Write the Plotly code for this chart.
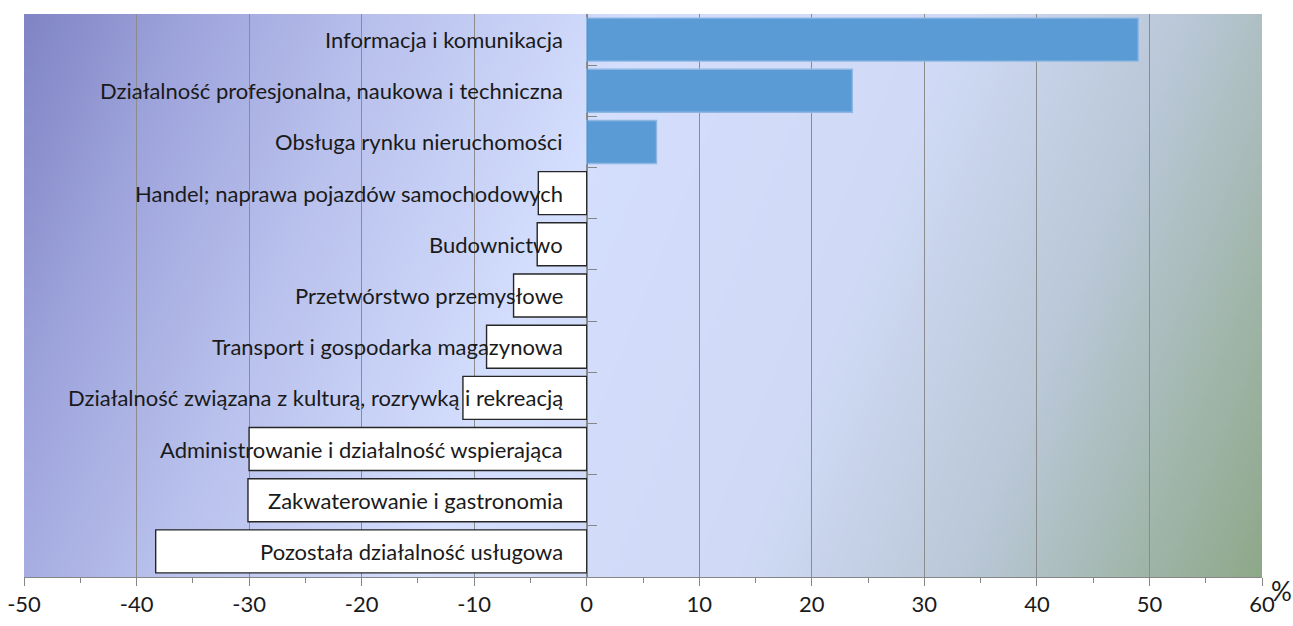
import base64, struct, zlib
import plotly.graph_objects as go

categories = [
    "Informacja i komunikacja",
    "Działalność profesjonalna, naukowa i techniczna",
    "Obsługa rynku nieruchomości",
    "Handel; naprawa pojazdów samochodowych",
    "Budownictwo",
    "Przetwórstwo przemysłowe",
    "Transport i gospodarka magazynowa",
    "Działalność związana z kulturą, rozrywką i rekreacją",
    "Administrowanie i działalność wspierająca",
    "Zakwaterowanie i gastronomia",
    "Pozostała działalność usługowa",
]
values = [49.0, 23.6, 6.2, -4.3, -4.4, -6.5, -8.9, -11.0, -30.0, -30.1, -38.3]
x_tick_vals = [-50, -40, -30, -20, -10, 0, 10, 20, 30, 40, 50, 60]
x_tick_text = [str(v) for v in x_tick_vals]
unit_label = "%"

# ---------- background gradient as an embedded PNG ----------
def hex2rgb(h):
    h = h.lstrip('#')
    return tuple(int(h[i:i + 2], 16) for i in (0, 2, 4))

stops = [(0.0, hex2rgb('#8084c4')), (0.12, hex2rgb('#a0a6dd')), (0.24, hex2rgb('#b8c0ec')),
         (0.42, hex2rgb('#d4defd')), (0.64, hex2rgb('#d0daf6')), (0.80, hex2rgb('#b9c7d6')),
         (1.0, hex2rgb('#8ea889'))]

def color_at(t):
    t = max(0.0, min(1.0, t))
    for (t0, c0), (t1, c1) in zip(stops[:-1], stops[1:]):
        if t <= t1:
            f = (t - t0) / (t1 - t0) if t1 > t0 else 0
            return bytes(int(round(c0[i] + (c1[i] - c0[i]) * f)) for i in range(3))
    return bytes(stops[-1][1])

W, H = 310, 141
PW, PH = 1238.0, 563.0
K = 0.4
rows = []
for j in range(H):
    row = bytearray()
    for i in range(W):
        px = (i + 0.5) / W * PW
        py = (j + 0.5) / H * PH
        t = (px + K * py) / (PW + K * PH)
        row += color_at(t)
    rows.append(bytes(row))

def png(w, h, rows):
    raw = b''.join(b'\x00' + r for r in rows)
    def chunk(tag, data):
        c = struct.pack('>I', len(data)) + tag + data
        return c + struct.pack('>I', zlib.crc32(tag + data) & 0xffffffff)
    return (b'\x89PNG\r\n\x1a\n' + chunk(b'IHDR', struct.pack('>IIBBBBB', w, h, 8, 2, 0, 0, 0))
            + chunk(b'IDAT', zlib.compress(raw, 9)) + chunk(b'IEND', b''))

bg_uri = 'data:image/png;base64,' + base64.b64encode(png(W, H, rows)).decode()

# ---------- figure ----------
FONT = "Liberation Sans Narrow, Lato, Liberation Sans, sans-serif"
fill = ['#5b9bd5' if v > 0 else '#ffffff' for v in values]
edge = ['#8db7e2' if v > 0 else '#262626' for v in values]

fig = go.Figure(go.Bar(
    x=values, y=categories, orientation='h',
    marker=dict(color=fill, line=dict(color=edge, width=1.4)),
    showlegend=False, hoverinfo='x+y',
))

xmin, xmax = -50, 60
fig.update_layout(
    width=1293, height=626, autosize=False,
    margin=dict(l=24, r=31, t=14, b=49, autoexpand=False),
    paper_bgcolor='white', plot_bgcolor='rgba(0,0,0,0)',
    bargap=0.16,
    font=dict(family=FONT, size=21, color='#1a1a1a'),
    images=[dict(source=bg_uri, xref='paper', yref='paper', x=0, y=1, sizex=1, sizey=1,
                 xanchor='left', yanchor='top', sizing='stretch', layer='below')],
    xaxis=dict(range=[xmin, xmax], tickvals=x_tick_vals, ticktext=x_tick_text,
               automargin=False, ticklabeloverflow='allow',
               showgrid=True, gridcolor='#8c8c8c', gridwidth=1, zeroline=False,
               showline=True, linecolor='#868686', linewidth=1,
               ticks='outside', ticklen=8, tickcolor='#868686',
               minor=dict(dtick=5, tick0=0, ticks='outside', ticklen=5, tickcolor='#868686', showgrid=False),
               tickfont=dict(family=FONT, size=22, color='#1a1a1a')),
    yaxis=dict(type='category', autorange='reversed', anchor='free',
               position=(0 - xmin) / (xmax - xmin), automargin=False,
               showline=True, linecolor='#868686', linewidth=1,
               ticks='inside', ticklen=9, tickcolor='#868686', tickson='boundaries',
               showticklabels=False, showgrid=False, zeroline=False),
)

for c in categories:
    fig.add_annotation(x=0, y=c, xref='x', yref='y', text=c, showarrow=False,
                       xanchor='right', yanchor='middle', xshift=-22,
                       font=dict(family=FONT, size=22, color='#1a1a1a'))

fig.add_annotation(x=1.0, y=0, xref='paper', yref='paper', text=unit_label,
                   showarrow=False, xanchor='center', yanchor='middle', xshift=19, yshift=-14,
                   font=dict(family=FONT, size=26, color='#1a1a1a'))

fig.write_html("out.html", config={'displayModeBar': False},
               post_script="document.body.style.margin='0';")
